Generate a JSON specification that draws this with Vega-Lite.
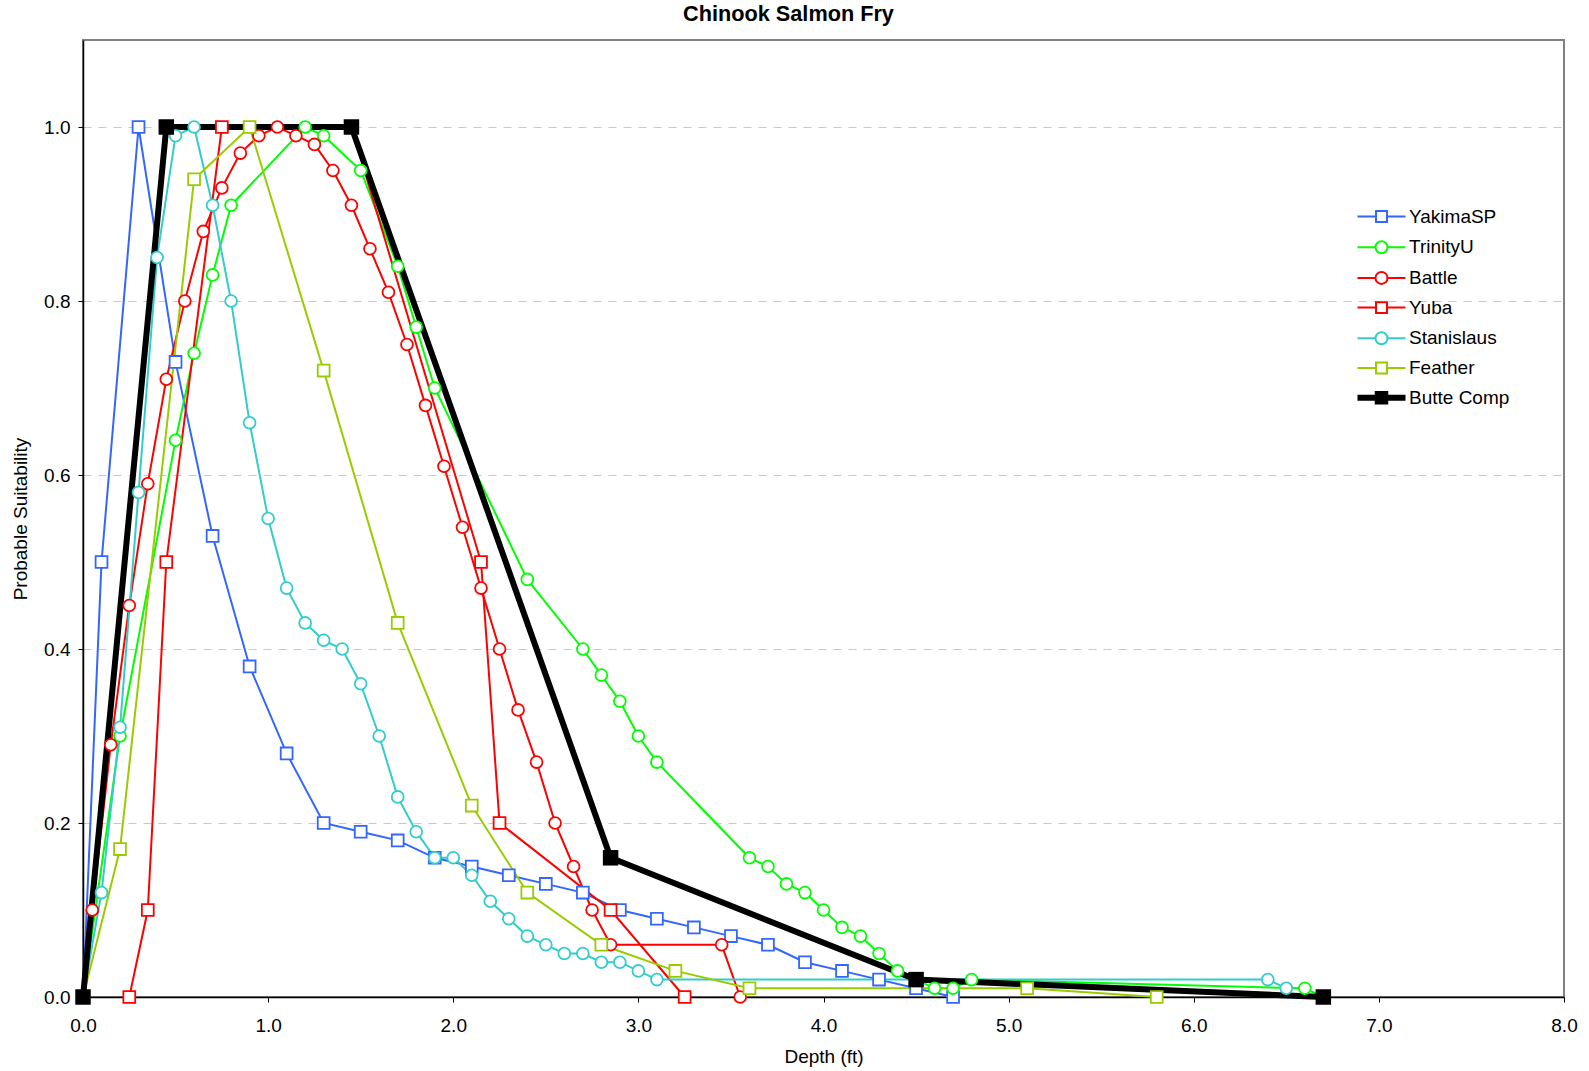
{
  "$schema": "https://vega.github.io/schema/vega-lite/v6.json",
  "autosize": "none",
  "width": 1481,
  "height": 957,
  "padding": {"left": 83, "top": 40, "right": 25, "bottom": 74},
  "background": "white",
  "config": {
    "font": "Liberation Sans",
    "view": {"stroke": "#808080", "strokeWidth": 2},
    "axis": {"labelColor": "black", "titleColor": "black", "domainColor": "black", "tickColor": "black", "labelFontSize": 19, "titleFontSize": 19, "titleFontWeight": "normal", "tickSize": 5, "domainWidth": 1.5, "labelFlush": false}
  },
  "title": {"text": "Chinook Salmon Fry", "fontSize": 21.7, "fontWeight": "bold", "color": "black", "anchor": "middle", "frame": "group", "dx": -35, "offset": 14},
  "datasets": {
    "curves": [
      {"series": "YakimaSP", "depth": 0, "suit": 0},
      {"series": "YakimaSP", "depth": 0.1, "suit": 0.5},
      {"series": "YakimaSP", "depth": 0.3, "suit": 1.0},
      {"series": "YakimaSP", "depth": 0.5, "suit": 0.73},
      {"series": "YakimaSP", "depth": 0.7, "suit": 0.53},
      {"series": "YakimaSP", "depth": 0.9, "suit": 0.38},
      {"series": "YakimaSP", "depth": 1.1, "suit": 0.28},
      {"series": "YakimaSP", "depth": 1.3, "suit": 0.2},
      {"series": "YakimaSP", "depth": 1.5, "suit": 0.19},
      {"series": "YakimaSP", "depth": 1.7, "suit": 0.18},
      {"series": "YakimaSP", "depth": 1.9, "suit": 0.16},
      {"series": "YakimaSP", "depth": 2.1, "suit": 0.15},
      {"series": "YakimaSP", "depth": 2.3, "suit": 0.14},
      {"series": "YakimaSP", "depth": 2.5, "suit": 0.13},
      {"series": "YakimaSP", "depth": 2.7, "suit": 0.12},
      {"series": "YakimaSP", "depth": 2.9, "suit": 0.1},
      {"series": "YakimaSP", "depth": 3.1, "suit": 0.09},
      {"series": "YakimaSP", "depth": 3.3, "suit": 0.08},
      {"series": "YakimaSP", "depth": 3.5, "suit": 0.07},
      {"series": "YakimaSP", "depth": 3.7, "suit": 0.06},
      {"series": "YakimaSP", "depth": 3.9, "suit": 0.04},
      {"series": "YakimaSP", "depth": 4.1, "suit": 0.03},
      {"series": "YakimaSP", "depth": 4.3, "suit": 0.02},
      {"series": "YakimaSP", "depth": 4.5, "suit": 0.01},
      {"series": "YakimaSP", "depth": 4.7, "suit": 0},
      {"series": "TrinityU", "depth": 0, "suit": 0},
      {"series": "TrinityU", "depth": 0.2, "suit": 0.3},
      {"series": "TrinityU", "depth": 0.5, "suit": 0.64},
      {"series": "TrinityU", "depth": 0.6, "suit": 0.74},
      {"series": "TrinityU", "depth": 0.7, "suit": 0.83},
      {"series": "TrinityU", "depth": 0.8, "suit": 0.91},
      {"series": "TrinityU", "depth": 1.2, "suit": 1.0},
      {"series": "TrinityU", "depth": 1.3, "suit": 0.99},
      {"series": "TrinityU", "depth": 1.5, "suit": 0.95},
      {"series": "TrinityU", "depth": 1.7, "suit": 0.84},
      {"series": "TrinityU", "depth": 1.8, "suit": 0.77},
      {"series": "TrinityU", "depth": 1.9, "suit": 0.7},
      {"series": "TrinityU", "depth": 2.4, "suit": 0.48},
      {"series": "TrinityU", "depth": 2.7, "suit": 0.4},
      {"series": "TrinityU", "depth": 2.8, "suit": 0.37},
      {"series": "TrinityU", "depth": 2.9, "suit": 0.34},
      {"series": "TrinityU", "depth": 3.0, "suit": 0.3},
      {"series": "TrinityU", "depth": 3.1, "suit": 0.27},
      {"series": "TrinityU", "depth": 3.6, "suit": 0.16},
      {"series": "TrinityU", "depth": 3.7, "suit": 0.15},
      {"series": "TrinityU", "depth": 3.8, "suit": 0.13},
      {"series": "TrinityU", "depth": 3.9, "suit": 0.12},
      {"series": "TrinityU", "depth": 4.0, "suit": 0.1},
      {"series": "TrinityU", "depth": 4.1, "suit": 0.08},
      {"series": "TrinityU", "depth": 4.2, "suit": 0.07},
      {"series": "TrinityU", "depth": 4.3, "suit": 0.05},
      {"series": "TrinityU", "depth": 4.4, "suit": 0.03},
      {"series": "TrinityU", "depth": 4.6, "suit": 0.01},
      {"series": "TrinityU", "depth": 4.7, "suit": 0.01},
      {"series": "TrinityU", "depth": 4.8, "suit": 0.02},
      {"series": "TrinityU", "depth": 6.6, "suit": 0.01},
      {"series": "TrinityU", "depth": 6.7, "suit": 0},
      {"series": "Battle", "depth": 0, "suit": 0},
      {"series": "Battle", "depth": 0.05, "suit": 0.1},
      {"series": "Battle", "depth": 0.15, "suit": 0.29},
      {"series": "Battle", "depth": 0.25, "suit": 0.45},
      {"series": "Battle", "depth": 0.35, "suit": 0.59},
      {"series": "Battle", "depth": 0.45, "suit": 0.71},
      {"series": "Battle", "depth": 0.55, "suit": 0.8},
      {"series": "Battle", "depth": 0.65, "suit": 0.88},
      {"series": "Battle", "depth": 0.75, "suit": 0.93},
      {"series": "Battle", "depth": 0.85, "suit": 0.97},
      {"series": "Battle", "depth": 0.95, "suit": 0.99},
      {"series": "Battle", "depth": 1.05, "suit": 1.0},
      {"series": "Battle", "depth": 1.15, "suit": 0.99},
      {"series": "Battle", "depth": 1.25, "suit": 0.98},
      {"series": "Battle", "depth": 1.35, "suit": 0.95},
      {"series": "Battle", "depth": 1.45, "suit": 0.91},
      {"series": "Battle", "depth": 1.55, "suit": 0.86},
      {"series": "Battle", "depth": 1.65, "suit": 0.81},
      {"series": "Battle", "depth": 1.75, "suit": 0.75},
      {"series": "Battle", "depth": 1.85, "suit": 0.68},
      {"series": "Battle", "depth": 1.95, "suit": 0.61},
      {"series": "Battle", "depth": 2.05, "suit": 0.54},
      {"series": "Battle", "depth": 2.15, "suit": 0.47},
      {"series": "Battle", "depth": 2.25, "suit": 0.4},
      {"series": "Battle", "depth": 2.35, "suit": 0.33},
      {"series": "Battle", "depth": 2.45, "suit": 0.27},
      {"series": "Battle", "depth": 2.55, "suit": 0.2},
      {"series": "Battle", "depth": 2.65, "suit": 0.15},
      {"series": "Battle", "depth": 2.75, "suit": 0.1},
      {"series": "Battle", "depth": 2.85, "suit": 0.06},
      {"series": "Battle", "depth": 3.45, "suit": 0.06},
      {"series": "Battle", "depth": 3.55, "suit": 0},
      {"series": "Yuba", "depth": 0.25, "suit": 0},
      {"series": "Yuba", "depth": 0.35, "suit": 0.1},
      {"series": "Yuba", "depth": 0.45, "suit": 0.5},
      {"series": "Yuba", "depth": 0.75, "suit": 1.0},
      {"series": "Yuba", "depth": 1.45, "suit": 1.0},
      {"series": "Yuba", "depth": 2.15, "suit": 0.5},
      {"series": "Yuba", "depth": 2.25, "suit": 0.2},
      {"series": "Yuba", "depth": 2.85, "suit": 0.1},
      {"series": "Yuba", "depth": 3.25, "suit": 0},
      {"series": "Stanislaus", "depth": 0, "suit": 0},
      {"series": "Stanislaus", "depth": 0.1, "suit": 0.12},
      {"series": "Stanislaus", "depth": 0.2, "suit": 0.31},
      {"series": "Stanislaus", "depth": 0.3, "suit": 0.58},
      {"series": "Stanislaus", "depth": 0.4, "suit": 0.85},
      {"series": "Stanislaus", "depth": 0.5, "suit": 0.99},
      {"series": "Stanislaus", "depth": 0.6, "suit": 1.0},
      {"series": "Stanislaus", "depth": 0.7, "suit": 0.91},
      {"series": "Stanislaus", "depth": 0.8, "suit": 0.8},
      {"series": "Stanislaus", "depth": 0.9, "suit": 0.66},
      {"series": "Stanislaus", "depth": 1.0, "suit": 0.55},
      {"series": "Stanislaus", "depth": 1.1, "suit": 0.47},
      {"series": "Stanislaus", "depth": 1.2, "suit": 0.43},
      {"series": "Stanislaus", "depth": 1.3, "suit": 0.41},
      {"series": "Stanislaus", "depth": 1.4, "suit": 0.4},
      {"series": "Stanislaus", "depth": 1.5, "suit": 0.36},
      {"series": "Stanislaus", "depth": 1.6, "suit": 0.3},
      {"series": "Stanislaus", "depth": 1.7, "suit": 0.23},
      {"series": "Stanislaus", "depth": 1.8, "suit": 0.19},
      {"series": "Stanislaus", "depth": 1.9, "suit": 0.16},
      {"series": "Stanislaus", "depth": 2.0, "suit": 0.16},
      {"series": "Stanislaus", "depth": 2.1, "suit": 0.14},
      {"series": "Stanislaus", "depth": 2.2, "suit": 0.11},
      {"series": "Stanislaus", "depth": 2.3, "suit": 0.09},
      {"series": "Stanislaus", "depth": 2.4, "suit": 0.07},
      {"series": "Stanislaus", "depth": 2.5, "suit": 0.06},
      {"series": "Stanislaus", "depth": 2.6, "suit": 0.05},
      {"series": "Stanislaus", "depth": 2.7, "suit": 0.05},
      {"series": "Stanislaus", "depth": 2.8, "suit": 0.04},
      {"series": "Stanislaus", "depth": 2.9, "suit": 0.04},
      {"series": "Stanislaus", "depth": 3.0, "suit": 0.03},
      {"series": "Stanislaus", "depth": 3.1, "suit": 0.02},
      {"series": "Stanislaus", "depth": 6.4, "suit": 0.02},
      {"series": "Stanislaus", "depth": 6.5, "suit": 0.01},
      {"series": "Feather", "depth": 0, "suit": 0},
      {"series": "Feather", "depth": 0.2, "suit": 0.17},
      {"series": "Feather", "depth": 0.6, "suit": 0.94},
      {"series": "Feather", "depth": 0.9, "suit": 1.0},
      {"series": "Feather", "depth": 1.3, "suit": 0.72},
      {"series": "Feather", "depth": 1.7, "suit": 0.43},
      {"series": "Feather", "depth": 2.1, "suit": 0.22},
      {"series": "Feather", "depth": 2.4, "suit": 0.12},
      {"series": "Feather", "depth": 2.8, "suit": 0.06},
      {"series": "Feather", "depth": 3.2, "suit": 0.03},
      {"series": "Feather", "depth": 3.6, "suit": 0.01},
      {"series": "Feather", "depth": 5.1, "suit": 0.01},
      {"series": "Feather", "depth": 5.8, "suit": 0},
      {"series": "Butte Comp", "depth": 0, "suit": 0},
      {"series": "Butte Comp", "depth": 0.45, "suit": 1.0},
      {"series": "Butte Comp", "depth": 1.45, "suit": 1.0},
      {"series": "Butte Comp", "depth": 2.85, "suit": 0.16},
      {"series": "Butte Comp", "depth": 4.5, "suit": 0.02},
      {"series": "Butte Comp", "depth": 6.7, "suit": 0}
    ]
  },
  "data": {"name": "curves"},
  "encoding": {
    "x": {"field": "depth", "type": "quantitative", "scale": {"domain": [0, 8], "nice": false, "zero": false},
      "axis": {"title": "Depth (ft)", "values": [0, 1, 2, 3, 4, 5, 6, 7, 8], "format": ".1f", "grid": false, "labelPadding": 14, "titlePadding": 12}},
    "y": {"field": "suit", "type": "quantitative", "scale": {"domain": [0, 1.1], "nice": false},
      "axis": {"title": "Probable Suitability", "values": [0, 0.2, 0.4, 0.6, 0.8, 1.0], "format": ".1f", "grid": true, "gridDash": [8, 7], "gridColor": "#c8c8c8", "gridWidth": 1, "labelPadding": 8, "titlePadding": 13}}
  },
  "layer": [
    {
      "transform": [{"filter": "datum.series !== 'Butte Comp'"}],
      "mark": {"type": "line", "strokeWidth": 2},
      "encoding": {
        "color": {"field": "series", "type": "nominal",
          "scale": {"domain": ["YakimaSP", "TrinityU", "Battle", "Yuba", "Stanislaus", "Feather", "Butte Comp"],
                    "range": ["#3366FF", "#00FF00", "#FF0000", "#FF0000", "#33CCCC", "#99CC00", "#000000"]},
          "legend": {
            "title": null, "orient": "none", "legendX": 1289, "legendY": 167, "padding": 0,
            "direction": "vertical", "columns": 1, "rowPadding": 9.7, "labelFontSize": 19, "labelColor": "black",
            "labelOffset": 18, "symbolSize": 225, "labelLimit": 300,
            "encode": {
              "symbols": {"update": {
                "shape": {"signal": "datum.value === 'Butte Comp' ? 'M-3.2,-0.4H3.2V0.4H-3.2ZM-0.9,-0.9H0.9V0.9H-0.9Z' : (indexof(['YakimaSP','Yuba','Feather'], datum.value) >= 0 ? 'M-3.2,0H-0.73M0.73,0H3.2M-0.73,-0.73H0.73V0.73H-0.73Z' : 'M-3.2,0H-0.8M0.8,0H3.2M-0.8,0A0.8,0.8 0 1,0 0.8,0A0.8,0.8 0 1,0 -0.8,0Z')"},
                "size": {"value": 225},
                "stroke": {"signal": "datum.value === 'Butte Comp' ? null : scale('color', datum.value)"},
                "strokeWidth": {"signal": "datum.value === 'Butte Comp' ? 0 : 2"},
                "fill": {"signal": "datum.value === 'Butte Comp' ? 'black' : 'white'"},
                "opacity": {"value": 1},
                "fillOpacity": {"value": 1},
                "strokeOpacity": {"value": 1}
              }}
            }
          }
        },
        "detail": {"field": "series"}
      }
    },
    {
      "transform": [{"filter": "datum.series === 'Butte Comp'"}],
      "mark": {"type": "line", "color": "black", "strokeWidth": 6, "strokeJoin": "miter"},
      "encoding": {}
    },
    {
      "transform": [{"filter": "datum.series !== 'Butte Comp'"}],
      "mark": {"type": "point", "filled": true, "fill": "white", "fillOpacity": 1, "strokeWidth": 1.8, "opacity": 1},
      "encoding": {
        "stroke": {"field": "series", "type": "nominal",
          "scale": {"domain": ["YakimaSP", "TrinityU", "Battle", "Yuba", "Stanislaus", "Feather"],
                    "range": ["#3366FF", "#00FF00", "#FF0000", "#FF0000", "#33CCCC", "#99CC00"]},
          "legend": null},
        "shape": {"field": "series", "type": "nominal",
          "scale": {"domain": ["YakimaSP", "TrinityU", "Battle", "Yuba", "Stanislaus", "Feather"],
                    "range": ["square", "circle", "circle", "square", "circle", "square"]},
          "legend": null},
        "size": {"value": 140}
      }
    },
    {
      "transform": [{"filter": "datum.series === 'Butte Comp'"}],
      "mark": {"type": "point", "shape": "square", "filled": true, "color": "black", "size": 240, "opacity": 1},
      "encoding": {}
    }
  ]
}
